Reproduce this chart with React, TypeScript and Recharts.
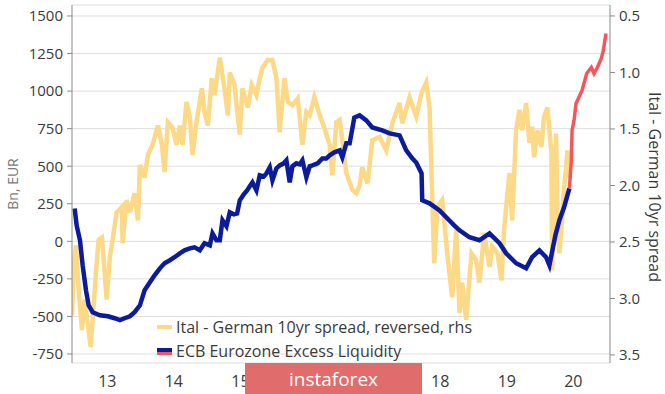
import { CartesianGrid, Legend, Line, LineChart, XAxis, YAxis } from "recharts";

// ECB excess liquidity, Bn EUR (decimal year / value)
const ecbYears = [
  2013.01, 2013.04, 2013.09, 2013.13, 2013.18, 2013.22, 2013.28, 2013.39, 2013.51, 2013.61,
  2013.69, 2013.76, 2013.84, 2013.91, 2013.99, 2014.06, 2014.14, 2014.21, 2014.29, 2014.36,
  2014.44, 2014.51, 2014.59, 2014.66, 2014.74, 2014.81, 2014.89, 2014.96, 2015.04, 2015.08,
  2015.14, 2015.19, 2015.23, 2015.29, 2015.34, 2015.4, 2015.45, 2015.49, 2015.55, 2015.6,
  2015.64, 2015.68, 2015.74, 2015.79, 2015.85, 2015.89, 2015.94, 2015.98, 2016.04, 2016.09,
  2016.15, 2016.19, 2016.24, 2016.28, 2016.34, 2016.39, 2016.43, 2016.49, 2016.54, 2016.58,
  2016.66, 2016.73, 2016.79, 2016.84, 2016.91, 2016.99, 2017.03, 2017.09, 2017.14, 2017.21,
  2017.29, 2017.39, 2017.48, 2017.63, 2017.74, 2017.89, 2017.99, 2018.08, 2018.14, 2018.22,
  2018.23, 2018.34, 2018.49, 2018.59, 2018.71, 2018.79, 2018.94, 2019.09, 2019.24, 2019.39,
  2019.49, 2019.64, 2019.79, 2019.88, 2019.99, 2020.09, 2020.14, 2020.23, 2020.29, 2020.36,
  2020.44,
];
const ecbValues = [
  219, 106, 7, -160, -326, -426, -472, -492, -499, -512,
  -525, -512, -499, -472, -426, -326, -273, -226, -180, -146,
  -126, -106, -80, -60, -47, -40, -60, -13, -27, 53,
  7, 7, 140, 100, 193, 180, 186, 273, 312, 339,
  366, 392, 339, 439, 432, 452, 492, 406, 485, 505,
  519, 539, 392, 499, 519, 512, 539, 426, 499, 505,
  519, 552, 552, 572, 592, 605, 559, 652, 652, 824,
  838, 805, 758, 738, 718, 705, 605, 552, 525, 452,
  273, 253, 206, 160, 106, 73, 27, 7, 53, -13,
  -80, -146, -180, -106, -60, -106, -160, 40, 140, 226,
  352,
];

// latest stretch of excess liquidity, shown in red
const recentYears = [
  2020.44, 2020.47, 2020.48, 2020.51, 2020.54, 2020.63, 2020.7, 2020.77, 2020.81, 2020.86,
  2020.92, 2020.95, 2020.99,
];
const recentValues = [352, 539, 738, 805, 918, 1004, 1117, 1157, 1117, 1157, 1217, 1270, 1383];

// Ital - German 10yr spread, % (plotted reversed on right axis)
const spreadYears = [
  2012.97, 2013.0, 2013.03, 2013.07, 2013.12, 2013.16, 2013.21, 2013.25, 2013.28, 2013.33,
  2013.37, 2013.42, 2013.46, 2013.49, 2013.54, 2013.58, 2013.64, 2013.72, 2013.73, 2013.79,
  2013.84, 2013.91, 2013.96, 2013.99, 2014.06, 2014.11, 2014.18, 2014.26, 2014.32, 2014.36,
  2014.41, 2014.48, 2014.54, 2014.59, 2014.63, 2014.69, 2014.74, 2014.78, 2014.84, 2014.92,
  2014.96, 2015.01, 2015.07, 2015.11, 2015.19, 2015.26, 2015.31, 2015.34, 2015.41, 2015.49,
  2015.53, 2015.61, 2015.67, 2015.74, 2015.79, 2015.83, 2015.91, 2015.98, 2016.04, 2016.09,
  2016.16, 2016.21, 2016.28, 2016.36, 2016.43, 2016.49, 2016.54, 2016.61, 2016.69, 2016.76,
  2016.84, 2016.88, 2016.94, 2016.99, 2017.03, 2017.09, 2017.18, 2017.24, 2017.29, 2017.33,
  2017.41, 2017.48, 2017.59, 2017.69, 2017.78, 2017.89, 2017.93, 2018.04, 2018.14, 2018.22,
  2018.29, 2018.34, 2018.38, 2018.41, 2018.46, 2018.53, 2018.61, 2018.68, 2018.74, 2018.79,
  2018.83, 2018.89, 2018.97, 2019.04, 2019.09, 2019.16, 2019.24, 2019.28, 2019.36, 2019.42,
  2019.46, 2019.51, 2019.54, 2019.58, 2019.64, 2019.69, 2019.73, 2019.79, 2019.84, 2019.88,
  2019.91, 2019.96, 2020.02, 2020.06, 2020.11, 2020.17, 2020.18, 2020.24, 2020.26, 2020.29,
  2020.33, 2020.36, 2020.39, 2020.41, 2020.44,
];
const spreadValues = [
  3.15, 2.68, 2.53, 2.93, 3.28, 3.01, 3.24, 3.43, 3.19, 2.77,
  2.48, 2.46, 2.77, 3.01, 2.63, 2.48, 2.24, 2.19, 2.51, 2.13,
  2.24, 2.07, 2.31, 1.82, 1.93, 1.73, 1.64, 1.47, 1.64, 1.88,
  1.44, 1.49, 1.64, 1.47, 1.64, 1.26, 1.4, 1.73, 1.44, 1.14,
  1.35, 1.47, 1.05, 1.2, 0.87, 1.14, 1.38, 1.0, 1.11, 1.55,
  1.14, 1.31, 1.11, 1.2, 1.05, 0.96, 0.89, 0.89, 1.05, 1.53,
  1.05, 1.26, 1.29, 1.23, 1.64, 1.35, 1.38, 1.22, 1.38, 1.49,
  1.64, 1.91, 1.44, 1.42, 1.6, 1.89, 2.04, 2.07, 2.0, 1.84,
  1.98, 1.6, 1.57, 1.69, 1.45, 1.27, 1.45, 1.22, 1.39, 1.18,
  1.09, 1.31, 2.1, 2.69, 2.19, 2.13, 2.63, 2.99, 2.39, 3.13,
  2.86, 3.19, 2.6, 2.66, 2.86, 2.42, 2.72, 2.54, 2.6, 2.84,
  2.39, 2.07, 1.89, 2.31, 1.51, 1.33, 1.51, 1.27, 1.62, 1.48,
  1.75, 1.51, 1.66, 1.39, 1.31, 1.71, 2.75, 1.54, 2.24, 2.6,
  2.31, 2.01, 1.86, 1.69, 1.93,
];

const yearTicks = [2013, 2014, 2015, 2016, 2017, 2018, 2019, 2020, 2021];
const yearLabelTicks = [2013.5, 2014.5, 2015.5, 2016.5, 2017.5, 2018.5, 2019.5, 2020.5];
const yearLabels = ["13", "14", "15", "16", "17", "18", "19", "20"];
const leftTicks = [-750, -500, -250, 0, 250, 500, 750, 1000, 1250, 1500];
const rightTicks = [0.5, 1, 1.5, 2, 2.5, 3, 3.5];

const FONT = "'Open Sans', 'Noto Sans', sans-serif";
const YELLOW = "#FCD987";
const BLUE = "#0B1B9C";
const RED = "#F4575B";
const TEXT = "#3a3a3a";
const AXIS = "#8a8a8a";

type Row = { t: number; ecb?: number; recent?: number; spread?: number };

const buildRows = () => {
  const map = new Map<number, Row>();
  const put = (years: number[], values: number[], key: "ecb" | "recent" | "spread") => {
    years.forEach((t, i) => {
      const row = map.get(t) ?? { t };
      row[key] = values[i];
      map.set(t, row);
    });
  };
  put(spreadYears, spreadValues, "spread");
  put(ecbYears, ecbValues, "ecb");
  put(recentYears, recentValues, "recent");
  return [...map.values()].sort((a, b) => a.t - b.t);
};

const rows = buildRows();

const LegendBox = () => (
  <div style={{ fontFamily: FONT, fontSize: 16, color: TEXT, lineHeight: "24px" }}>
    <div style={{ display: "flex", alignItems: "center" }}>
      <span style={{ width: 15, height: 4, background: YELLOW, marginRight: 4 }} />
      Ital - German 10yr spread, reversed, rhs
    </div>
    <div style={{ display: "flex", alignItems: "center" }}>
      <span style={{ width: 15, marginRight: 4, display: "flex", flexDirection: "column" }}>
        <span style={{ height: 4, background: BLUE }} />
        <span style={{ height: 3, background: RED }} />
      </span>
      ECB Eurozone Excess Liquidity
    </div>
  </div>
);

export default function App() {
  return (
    <div style={{ position: "absolute", left: 0, top: 0, width: 665, height: 394, background: "#fff" }}>
      <LineChart width={665} height={394} data={rows} margin={{ top: 5, right: 0, left: 0, bottom: 0 }}>
        <CartesianGrid vertical={false} stroke="#dedede" yAxisId="left" />
        <XAxis
          xAxisId="years"
          dataKey="t"
          type="number"
          domain={[2012.97, 2021.05]}
          ticks={yearTicks}
          tick={false}
          tickSize={5}
          height={0}
          stroke={AXIS}
          allowDataOverflow
        />
        <XAxis
          xAxisId="labels"
          dataKey="t"
          type="number"
          domain={[2012.97, 2021.05]}
          ticks={yearLabelTicks}
          tickFormatter={(v: number) => yearLabels[yearLabelTicks.indexOf(v)] ?? ""}
          axisLine={false}
          tickLine={false}
          tickSize={6}
          tickMargin={7}
          height={31}
          tick={{ fill: TEXT, fontSize: 16, fontFamily: FONT }}
          allowDataOverflow
        />
        <YAxis
          yAxisId="left"
          type="number"
          domain={[-810, 1573]}
          ticks={leftTicks}
          width={72}
          stroke={AXIS}
          tickSize={5}
          tickMargin={4}
          tick={{ fill: TEXT, fontSize: 15, fontFamily: FONT }}
          allowDataOverflow
          label={{
            content: ({ viewBox }: any) => {
              const cx = viewBox.x + 12;
              const cy = viewBox.y + viewBox.height / 2;
              return (
                <text x={cx} y={cy} transform={`rotate(-90 ${cx} ${cy})`} textAnchor="middle" dominantBaseline="central" fill="#7a7a7a" fontSize={14} fontFamily={FONT}>
                  Bn, EUR
                </text>
              );
            },
          }}
        />
        <YAxis
          yAxisId="right"
          orientation="right"
          type="number"
          reversed
          domain={[0.403, 3.571]}
          ticks={rightTicks}
          tickFormatter={(v: number) => v.toFixed(1)}
          width={55}
          stroke={AXIS}
          tickSize={5}
          tickMargin={4}
          tick={{ fill: TEXT, fontSize: 15, fontFamily: FONT }}
          allowDataOverflow
          label={{
            content: ({ viewBox }: any) => {
              const cx = viewBox.x + viewBox.width - 10;
              const cy = viewBox.y + viewBox.height / 2 + 3;
              return (
                <text x={cx} y={cy} transform={`rotate(90 ${cx} ${cy})`} textAnchor="middle" dominantBaseline="central" fill={TEXT} fontSize={16} fontFamily={FONT}>
                  Ital - German 10yr spread
                </text>
              );
            },
          }}
        />
        <Legend
          layout="horizontal"
          verticalAlign="middle"
          align="center"
          content={() => <LegendBox />}
          wrapperStyle={{ position: "absolute", left: 157, top: 315, width: 400 }}
        />
        <Line
          xAxisId="years"
          yAxisId="right"
          dataKey="spread"
          stroke={YELLOW}
          strokeWidth={4.5}
          dot={false}
          connectNulls
          isAnimationActive={false}
        />
        <Line
          xAxisId="years"
          yAxisId="left"
          dataKey="ecb"
          stroke={BLUE}
          strokeWidth={4.5}
          dot={false}
          connectNulls
          isAnimationActive={false}
        />
        <Line
          xAxisId="years"
          yAxisId="left"
          dataKey="recent"
          stroke={RED}
          strokeWidth={3.5}
          dot={false}
          connectNulls
          isAnimationActive={false}
        />
      </LineChart>
      <div
        style={{
          position: "absolute",
          left: 245,
          top: 363,
          width: 177,
          height: 31,
          background: "#E06C6C",
          color: "#fff",
          fontFamily: FONT,
          fontSize: 19,
          display: "flex",
          alignItems: "center",
          justifyContent: "center",
        }}
      >
        instaforex
      </div>
    </div>
  );
}
